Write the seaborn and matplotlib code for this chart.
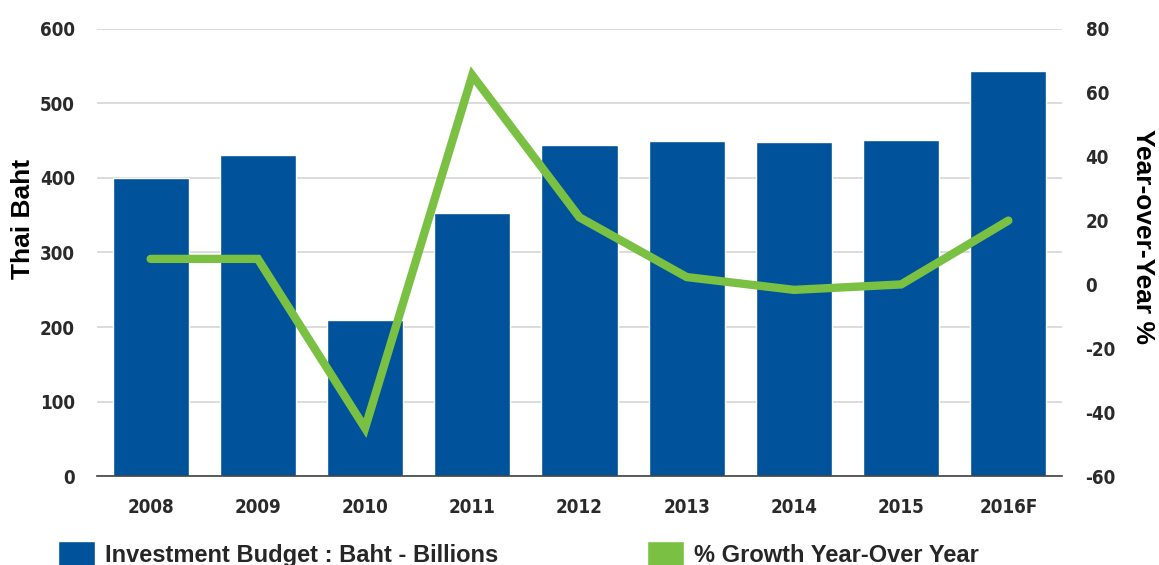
import numpy as np
import pandas as pd
import matplotlib
matplotlib.use("Agg")
import matplotlib.pyplot as plt
from matplotlib.patches import Patch
from matplotlib import font_manager as fm
import seaborn as sns

years = ["2008", "2009", "2010", "2011", "2012", "2013", "2014", "2015", "2016F"]
budget = [400, 431, 209, 353, 444, 450, 448, 451, 544]
growth = [8, 8, -45, 65.5, 21, 2.3, -1.7, 0, 20]
left_ticks = [0, 100, 200, 300, 400, 500, 600]
right_ticks = [-60, -40, -20, 0, 20, 40, 60, 80]

BLUE = "#00529B"
GREEN = "#7AC143"

sns.set_theme(style="white")
plt.rcParams["font.family"] = ["Liberation Sans", "DejaVu Sans"]
plt.rcParams["axes.unicode_minus"] = False

# look for a condensed face for the tick labels
tick_font = None
for f in fm.fontManager.ttflist:
    nm = f.name.lower()
    if ("narrow" in nm or "condensed" in nm or f.stretch in ("condensed", "semi-condensed")) and f.style == "normal":
        tick_font = fm.FontProperties(fname=f.fname)
        break
if tick_font is None:
    tick_font = fm.FontProperties(family="Liberation Sans")
tick_font.set_size(13.5)

fig = plt.figure(figsize=(11.59, 5.65), dpi=100)
ax = fig.add_axes([0.0837, 0.1575, 0.8326, 0.7912])

df = pd.DataFrame({"year": years, "budget": budget})
sns.barplot(data=df, x="year", y="budget", color=BLUE, saturation=1, width=0.71, ax=ax)
ax.set_ylim(0, 600)
ax.set_xlim(-0.5, len(years) - 0.5)
ax.set_yticks(left_ticks)
ax.yaxis.grid(True, color="#D6D6D6", linewidth=1.2)
ax.set_axisbelow(True)
for s in ["left", "right", "top"]:
    ax.spines[s].set_visible(False)
ax.spines["bottom"].set_color("#404040")
ax.spines["bottom"].set_linewidth(1.2)
ax.tick_params(axis="y", length=0, pad=16)
ax.tick_params(axis="x", length=0, pad=16)
for lab in ax.get_xticklabels() + ax.get_yticklabels():
    lab.set_fontproperties(tick_font)
    lab.set_color("#2A2A2A")
ax.set_xlabel("")
ax.set_ylabel("Thai Baht", fontsize=19, fontweight="bold", color="black")
ax.yaxis.set_label_coords(-0.064, 0.575)

ax2 = ax.twinx()
sns.lineplot(x=np.arange(len(years)), y=growth, color=GREEN, linewidth=6,
             solid_capstyle="round", solid_joinstyle="miter", ax=ax2)
ax2.set_ylim(-60, 80)
ax2.set_yticks(right_ticks)
ax2.set_xlim(-0.5, len(years) - 0.5)
for s in ["left", "right", "top", "bottom"]:
    ax2.spines[s].set_visible(False)
ax2.tick_params(axis="y", length=0, pad=17)
for lab in ax2.get_yticklabels():
    lab.set_fontproperties(tick_font)
    lab.set_color("#2A2A2A")
ax2.set_ylabel("Year-over-Year %", fontsize=19, fontweight="bold", color="black",
               rotation=-90)
ax2.yaxis.set_label_coords(1.096, 0.535)
ax2.grid(False)

handles = [Patch(facecolor=BLUE), Patch(facecolor=GREEN)]
labels = ["Investment Budget : Baht - Billions", "% Growth Year-Over Year"]
fig.legend(handles, labels, loc="center left", bbox_to_anchor=(0.050, 0.02), ncol=2,
           frameon=False, prop={"weight": "bold", "size": 17},
           borderpad=0, borderaxespad=0,
           handlelength=1.57, handleheight=1.3, handletextpad=0.42, columnspacing=6.3)

fig.savefig("out.png", dpi=100)
